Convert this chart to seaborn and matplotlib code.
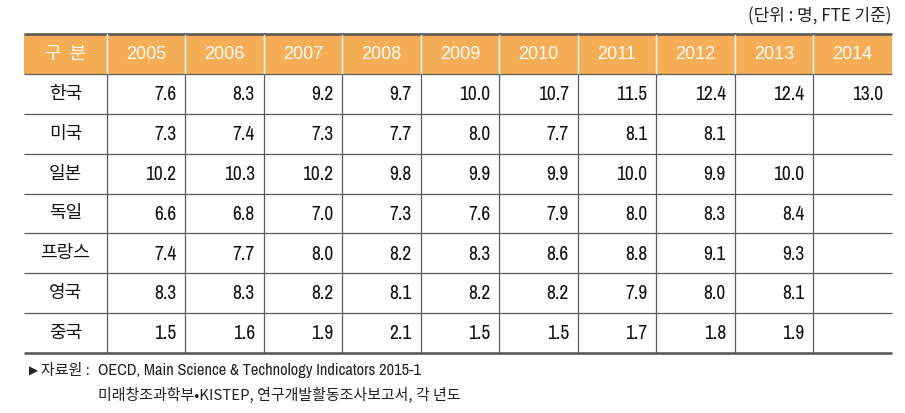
import numpy as np
import pandas as pd
import matplotlib
matplotlib.use("Agg")
import matplotlib.pyplot as plt
from matplotlib.colors import ListedColormap
from matplotlib import font_manager
import seaborn as sns

# ---- data ----
years = ["2005", "2006", "2007", "2008", "2009", "2010", "2011", "2012", "2013", "2014"]
countries = ["한국", "미국", "일본", "독일", "프랑스", "영국", "중국"]
korea   = [7.6, 8.3, 9.2, 9.7, 10.0, 10.7, 11.5, 12.4, 12.4, 13.0]
usa     = [7.3, 7.4, 7.3, 7.7, 8.0, 7.7, 8.1, 8.1, None, None]
japan   = [10.2, 10.3, 10.2, 9.8, 9.9, 9.9, 10.0, 9.9, 10.0, None]
germany = [6.6, 6.8, 7.0, 7.3, 7.6, 7.9, 8.0, 8.3, 8.4, None]
france  = [7.4, 7.7, 8.0, 8.2, 8.3, 8.6, 8.8, 9.1, 9.3, None]
uk      = [8.3, 8.3, 8.2, 8.1, 8.2, 8.2, 7.9, 8.0, 8.1, None]
china   = [1.5, 1.6, 1.9, 2.1, 1.5, 1.5, 1.7, 1.8, 1.9, None]
header_label = "구  분"
unit_text = "(단위 : 명, FTE 기준)"
source_mark = "▶"
source_label = "자료원 :"
source_line1 = "OECD, Main Science & Technology Indicators 2015-1"
source_line2 = "미래창조과학부•KISTEP, 연구개발활동조사보고서, 각 년도"

values = pd.DataFrame([korea, usa, japan, germany, france, uk, china],
                      index=countries, columns=years, dtype=float)

sns.set_theme(style="white")
plt.rcParams["font.family"] = ["Noto Sans CJK KR", "DejaVu Sans"]

names = {f.name for f in font_manager.fontManager.ttflist}
if "Archivo Narrow" in names:
    NUM = dict(family=["Archivo Narrow", "DejaVu Sans"])
else:
    NUM = dict(family=["DejaVu Sans"], stretch="condensed")

W, H = 905, 413
fig = plt.figure(figsize=(W / 100, H / 100), dpi=100)

ORANGE = "#F5AE55"
LINE = "#5a5a5a"
nrows = len(countries) + 1

top, bottom = 34, 353
x0, x1, x2 = 24, 106.7, 891.7


def fax(l, r):
    return fig.add_axes([l / W, 1 - bottom / H, (r - l) / W, (bottom - top) / H])


ax_lab = fax(x0, x1)
ax_body = fax(x1, x2)

cmap = ListedColormap(["white", ORANGE])
flag_lab = pd.DataFrame(np.r_[[1], np.zeros(len(countries))].reshape(-1, 1))
flag_body = pd.DataFrame(np.vstack([np.ones((1, len(years))),
                                    np.zeros((len(countries), len(years)))]))
sns.heatmap(flag_lab, ax=ax_lab, cmap=cmap, vmin=0, vmax=1, cbar=False,
            xticklabels=False, yticklabels=False, linewidths=0)
sns.heatmap(flag_body, ax=ax_body, cmap=cmap, vmin=0, vmax=1, cbar=False,
            xticklabels=False, yticklabels=False, linewidths=0)

for ax, ncols in ((ax_lab, 1), (ax_body, len(years))):
    for s in ax.spines.values():
        s.set_visible(False)
    ax.set_xlim(0, ncols)
    ax.set_ylim(nrows, 0)
    ax.plot([0, ncols], [0, 0], color=LINE, lw=1.9, clip_on=False, solid_capstyle="butt")
    ax.plot([0, ncols], [nrows, nrows], color=LINE, lw=1.9, clip_on=False, solid_capstyle="butt")
    for r in range(1, nrows):
        ax.plot([0, ncols], [r, r], color=LINE, lw=0.9, clip_on=False, solid_capstyle="butt")

for c in range(0, len(years)):
    if c == 0:
        ax_body.plot([0, 0], [0, 1], color="white", lw=1.0, clip_on=False)
        ax_body.plot([0, 0], [1, nrows], color=LINE, lw=0.9, clip_on=False)
    else:
        ax_body.plot([c, c], [0.02, 1], color="white", lw=1.0)
        ax_body.plot([c, c], [1, nrows], color=LINE, lw=0.9)

num_font = dict(size=14, color="#111111", **NUM)
head_font = dict(family=["Liberation Sans", "DejaVu Sans"], size=13, color="white")
kfam = ["Noto Sans CJK KR", "DejaVu Sans"]

ax_lab.text(0.5, 0.5, header_label, ha="center", va="center", color="white",
            fontsize=13, family=kfam)
for j, y in enumerate(years):
    ax_body.text(j + 0.5, 0.52, y, ha="center", va="center", **head_font)

pad = 8.8 / 78.5
for i, name in enumerate(countries):
    ax_lab.text(0.5, i + 1.5, name, ha="center", va="center", fontsize=13,
                color="#111111", family=kfam)
    for j, y in enumerate(years):
        v = values.loc[name, y]
        if pd.notna(v):
            ax_body.text(j + 1 - pad, i + 1.52, f"{v:.1f}", ha="right", va="center", **num_font)

fig.text(891 / W, 1 - 16 / H, unit_text, ha="right", va="center", fontsize=12.2,
         color="#222222", family=kfam)
fig.text(29 / W, 1 - 371 / H, source_mark, ha="left", va="center", fontsize=8.5,
         color="#222222", family=["DejaVu Sans"])
fig.text(41 / W, 1 - 371 / H, source_label, ha="left", va="center", fontsize=10.8,
         color="#222222", family=kfam)
fig.text(98 / W, 1 - 371 / H, source_line1, ha="left", va="center", fontsize=11.8,
         color="#222222", **NUM)
fig.text(98 / W, 1 - 394 / H, source_line2, ha="left", va="center", fontsize=10.8,
         color="#222222", family=kfam)

fig.savefig("out.png", dpi=100)
